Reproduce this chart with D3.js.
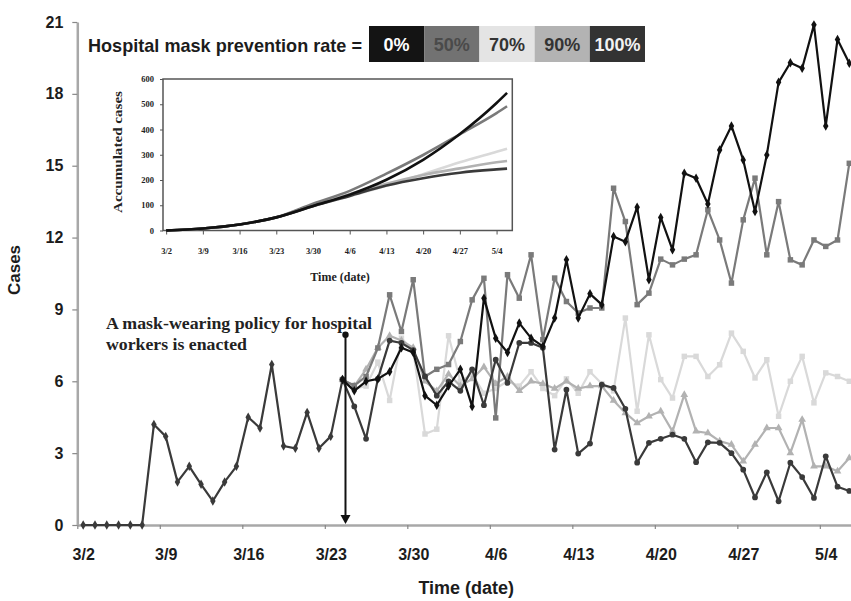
<!DOCTYPE html>
<html><head><meta charset="utf-8">
<script src="https://cdn.jsdelivr.net/npm/d3@7/dist/d3.min.js"></script>
<style>body{margin:0;background:#fff}svg{display:block}</style>
</head><body>
<svg id="c" width="851" height="601"></svg>
<script>
// ---------- DATA ----------
const tickLabels = ["3/2","3/9","3/16","3/23","3/30","4/6","4/13","4/20","4/27","5/4"];
const tickDays   = [0,7,14,21,28,35,42,49,56,63];
const yTicks     = [0,3,6,9,12,15,18,21];
// daily cases 3/2 .. 3/24 (common to all scenarios)
const prePolicy = [0,0,0,0,0,0,4.2,3.7,1.8,2.45,1.7,1.0,1.8,2.45,4.5,4.05,6.7,3.3,3.2,4.7,3.2,3.7,6.07];
// daily cases 3/24 .. 5/6 per hospital mask prevention rate
const rate0   = [6.07,5.6,6.0,6.1,6.4,7.4,7.2,5.4,5.0,5.8,6.5,4.95,9.47,7.8,7.2,8.43,7.8,7.46,8.64,11.07,8.64,9.65,9.2,12.04,11.83,13.27,10.24,12.84,11.49,14.69,14.48,13.4,15.66,16.66,15.24,13.09,15.45,18.48,19.3,19.07,20.88,16.66,20.27,19.28];
const rate50  = [6.07,5.82,6.2,7.39,9.61,8.08,10.24,6.2,6.5,6.7,7.66,9.4,10.3,4.47,10.45,9.47,11.28,7.74,10.31,9.33,8.85,9.06,9.06,14.06,12.67,9.2,9.68,11.1,10.86,11.1,11.28,13.16,11.9,10.1,12.74,14.48,11.28,13.5,11.07,10.86,11.9,11.63,11.9,15.1];
const rate70  = [6.07,5.7,5.8,6.8,5.2,7.8,7.3,3.8,4.0,7.9,6.0,6.3,5.5,5.7,6.0,5.8,6.4,5.7,5.4,6.1,5.5,6.4,5.9,5.6,8.64,4.75,7.94,6.07,5.3,7.04,7.04,6.2,6.69,8.01,7.25,6.14,6.9,4.54,6.0,7.04,5.1,6.35,6.2,6.0];
const rate90  = [6.07,5.8,6.5,7.4,7.9,7.7,7.4,6.0,5.6,6.3,5.8,6.1,6.6,5.9,6.2,5.6,6.0,5.9,5.7,6.0,5.7,5.8,5.8,5.2,4.68,4.26,4.54,4.75,3.91,5.44,3.91,3.84,3.5,3.36,2.66,3.36,4.05,4.05,3.01,4.4,2.45,2.45,2.24,2.8];
const rate100 = [6.07,4.95,3.6,6.1,7.7,7.6,7.3,6.2,5.4,6.0,5.6,6.5,5.0,6.9,5.93,7.6,7.6,7.4,3.15,5.65,2.98,3.4,5.86,5.72,4.85,2.6,3.43,3.6,3.77,3.6,2.62,3.45,3.43,3.0,2.31,1.15,2.2,0.99,2.6,2.0,1.13,2.87,1.6,1.42];
const policyDay = 22;
// inset: accumulated cases read at weekly dates (+ last day)
const insetDays = [0,7,14,21,28,35,42,49,56,63,65];
const insetYTicks = [0,100,200,300,400,500,600];
const acc0   = [0,8,24,52,97,142,201,280,382,505,545];
const acc50  = [0,8,24,52,106,157,225,299,381,465,492];
const acc70  = [0,8,24,52,97,136,177,223,270,312,324];
const acc90  = [0,8,24,52,101,144,185,220,246,270,275];
const acc100 = [0,8,24,52,96,137,178,207,229,242,245];
const legendLabels = ["0%","50%","70%","90%","100%"];

// ---------- STYLES ----------
const series = [
  {name:"70%",  vals:rate70,  acc:acc70,  color:"#d9d9d9", sym:d3.symbolSquare,   box:"#e4e4e4", txt:"#333"},
  {name:"90%",  vals:rate90,  acc:acc90,  color:"#b2b2b2", sym:d3.symbolTriangle, box:"#b3b3b3", txt:"#333"},
  {name:"50%",  vals:rate50,  acc:acc50,  color:"#7a7a7a", sym:d3.symbolSquare,   box:"#727272", txt:"#4a4a4a"},
  {name:"100%", vals:rate100, acc:acc100, color:"#3a3a3a", sym:d3.symbolCircle,   box:"#333",    txt:"#f2f2f2"},
  {name:"0%",   vals:rate0,   acc:acc0,   color:"#111",    sym:d3.symbolDiamond,  box:"#141414", txt:"#fff"}
];
const SANS = "'Liberation Sans', Arial, sans-serif";
const NARROW = "'Liberation Sans Narrow','Arial Narrow','Liberation Sans',Arial,sans-serif";
const SERIF = "'Liberation Serif','Times New Roman',serif";

const svg = d3.select("#c");
const x = d3.scaleLinear().domain([-0.5, 65.5]).range([77.3, 855.2]);
const y = d3.scaleLinear().domain([0, 21]).range([525, 22]);

// ---------- AXES ----------
const yAx = svg.append("g").attr("transform", `translate(${x(-0.5)},0)`)
  .call(d3.axisLeft(y).tickValues(yTicks).tickSize(5).tickSizeOuter(0).tickPadding(9));
yAx.select(".domain").attr("stroke","#a8a8a8").attr("stroke-width",2.5);
yAx.selectAll(".tick line").attr("stroke","#888").attr("stroke-width",1.2);
yAx.selectAll("text").attr("font-family",SANS).attr("font-weight","bold").attr("font-size",16).attr("fill","#1c1c1c");

const halfDay = x(0) - x(-0.5);
const xAx = svg.append("g").attr("transform", `translate(0,${y(0)})`)
  .call(d3.axisBottom(x).tickValues(tickDays.map(d => d - 0.5)).tickFormat((d,i) => tickLabels[i]).tickSize(4).tickSizeOuter(0).tickPadding(20));
xAx.select(".domain").attr("stroke","#a8a8a8").attr("stroke-width",2.5);
xAx.selectAll(".tick line").attr("stroke","#888").attr("stroke-width",1.2);
xAx.selectAll("text").attr("dx", halfDay).attr("font-family",SANS).attr("font-weight","bold").attr("font-size",16).attr("fill","#1c1c1c");

svg.append("text").attr("transform","translate(20,270) rotate(-90)").attr("text-anchor","middle")
  .attr("font-family",SANS).attr("font-weight","bold").attr("font-size",17).attr("fill","#1c1c1c").text("Cases");
svg.append("text").attr("x",(x(-0.5)+x(65.5))/2).attr("y",594).attr("text-anchor","middle")
  .attr("font-family",SANS).attr("font-weight","bold").attr("font-size",18).attr("fill","#1c1c1c").text("Time (date)");

// ---------- MAIN LINES ----------
const line = d3.line().x(d => x(d.d)).y(d => y(d.v));
const preData = prePolicy.map((v,i) => ({d:i, v}));
const gMain = svg.append("g");
function drawSeries(data, color, sym, size){
  gMain.append("path").datum(data).attr("d", line).attr("fill","none").attr("stroke",color).attr("stroke-width",2.2).attr("stroke-linejoin","round");
  gMain.selectAll(null).data(data).join("path")
    .attr("transform", d => `translate(${x(d.d)},${y(d.v)})`)
    .attr("d", d3.symbol().type(sym).size(size)).attr("fill", color);
}
drawSeries(preData, "#3a3a3a", d3.symbolDiamond, 26);
series.forEach(s => {
  const data = s.vals.map((v,i) => ({d: policyDay + i, v}));
  drawSeries(data, s.color, s.sym, s.sym === d3.symbolSquare ? 30 : 26);
});

// ---------- POLICY ARROW ----------
const ax = x(policyDay) + 3;
svg.append("line").attr("x1",ax).attr("x2",ax).attr("y1",y(7.94)).attr("y2",y(0)-8)
  .attr("stroke","#111").attr("stroke-width",2);
svg.append("circle").attr("cx",ax).attr("cy",y(7.94)).attr("r",3.2).attr("fill","#111");
svg.append("path").attr("d",`M${ax-5},${y(0)-10}L${ax+5},${y(0)-10}L${ax},${y(0)-1}Z`).attr("fill","#111");
const annStyle = t => t.attr("font-family",SERIF).attr("font-weight","bold").attr("font-size",16).attr("fill","#222").attr("lengthAdjust","spacingAndGlyphs");
svg.append("text").call(annStyle).attr("x",106).attr("y",329).attr("textLength",266).text("A mask-wearing policy for hospital");
svg.append("text").call(annStyle).attr("x",106).attr("y",350).attr("textLength",141).text("workers is enacted");

// ---------- LEGEND ----------
svg.append("text").attr("x",88).attr("y",52).attr("font-family",NARROW).attr("font-weight","bold")
  .attr("font-size",19).attr("fill","#1c1c1c").attr("textLength",274).attr("lengthAdjust","spacingAndGlyphs")
  .text("Hospital mask prevention rate =");
const legendOrder = ["0%","50%","70%","90%","100%"];
const boxX = d3.scaleBand().domain(legendLabels).range([369, 645]);
legendOrder.forEach(n => {
  const s = series.find(t => t.name === n);
  svg.append("rect").attr("x",boxX(n)).attr("y",26).attr("width",boxX.bandwidth()).attr("height",36).attr("fill",s.box);
  svg.append("text").attr("x",boxX(n)+boxX.bandwidth()/2).attr("y",51).attr("text-anchor","middle")
    .attr("font-family",NARROW).attr("font-weight","bold").attr("font-size",18).attr("fill",s.txt).text(n);
});

// ---------- INSET ----------
const ix = d3.scaleLinear().domain([-0.6, 66]).range([163, 512.3]);
const iy = d3.scaleLinear().domain([0, 600]).range([230.5, 79]);
const gi = svg.append("g");
gi.append("rect").attr("x",ix(-0.6)).attr("y",iy(600)).attr("width",ix(66)-ix(-0.6)).attr("height",iy(0)-iy(600))
  .attr("fill","#fff").attr("stroke","#555").attr("stroke-width",1.5);
const iyAx = gi.append("g").attr("transform",`translate(${ix(-0.6)},0)`)
  .call(d3.axisLeft(iy).tickValues(insetYTicks).tickSize(3).tickSizeOuter(0).tickPadding(6));
iyAx.select(".domain").remove();
iyAx.selectAll(".tick line").attr("stroke","#555");
iyAx.selectAll("text").attr("font-family",SERIF).attr("font-weight","bold").attr("font-size",8.5).attr("fill","#222");
const ixAx = gi.append("g").attr("transform",`translate(0,${iy(0)})`)
  .call(d3.axisBottom(ix).tickValues(tickDays).tickFormat((d,i)=>tickLabels[i]).tickSize(4).tickSizeOuter(0).tickPadding(13));
ixAx.select(".domain").remove();
ixAx.selectAll(".tick line").attr("stroke","#555");
ixAx.selectAll("text").attr("font-family",SERIF).attr("font-weight","bold").attr("font-size",8.5).attr("fill","#222");
gi.append("text").attr("transform","translate(122,152) rotate(-90)").attr("text-anchor","middle")
  .attr("font-family",SERIF).attr("font-weight","bold").attr("font-size",11.5).attr("fill","#222")
  .attr("textLength",122).attr("lengthAdjust","spacingAndGlyphs").text("Accumulated cases");
gi.append("text").attr("x",340).attr("y",281).attr("text-anchor","middle")
  .attr("font-family",SERIF).attr("font-weight","bold").attr("font-size",12).attr("fill","#222").text("Time (date)");
const iline = d3.line().curve(d3.curveMonotoneX).x(d => ix(d.d)).y(d => iy(d.v));
series.forEach(s => {
  const data = s.acc.map((v,i) => ({d: insetDays[i], v}));
  gi.append("path").datum(data).attr("d", iline).attr("fill","none").attr("stroke", s.color).attr("stroke-width", 2.6);
});
</script>
</body></html>
